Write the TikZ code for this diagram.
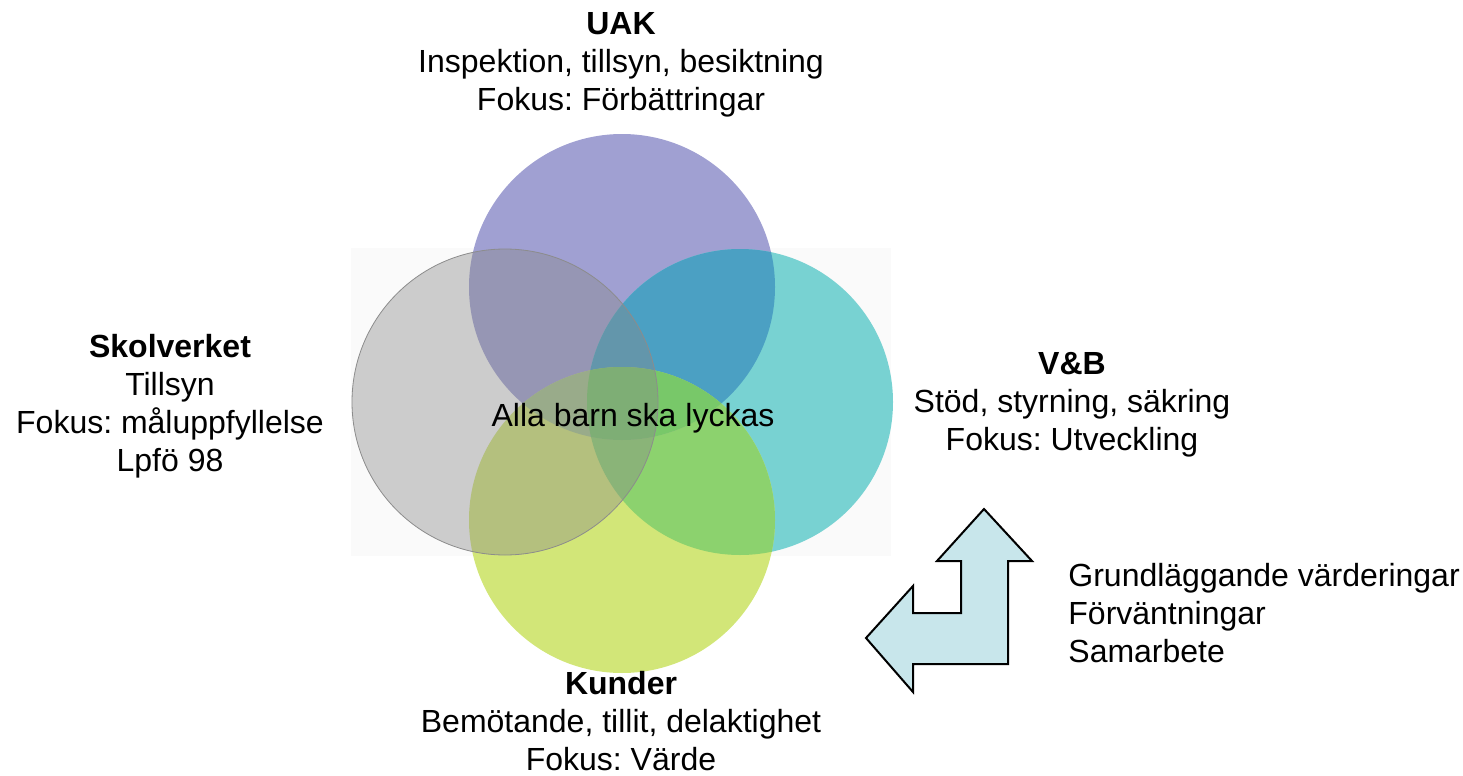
\documentclass[tikz,border=0pt]{standalone}
\usepackage{fontspec}
\setmainfont{Liberation Sans}
\frenchspacing
\definecolor{cP}{RGB}{160,160,210}
\definecolor{cT}{RGB}{120,210,210}
\definecolor{cG}{RGB}{210,230,120}
\definecolor{cPT}{RGB}{75,160,195}
\definecolor{cTG}{RGB}{140,210,110}
\definecolor{cPG}{RGB}{165,195,140}
\definecolor{cPTG}{RGB}{120,200,105}
\definecolor{cL}{RGB}{135,135,135}
\definecolor{cArrow}{RGB}{200,230,235}
\definecolor{cBg}{RGB}{250,250,250}
\begin{document}
\begin{tikzpicture}[x=0.5pt,y=-0.5pt,
  lbl/.style={align=center, font=\fontsize{16}{19}\selectfont, inner sep=0pt},
  lbll/.style={align=left, font=\fontsize{16}{19}\selectfont, inner sep=0pt}]
\useasboundingbox (0,0) rectangle (1463,776);
\fill[cBg] (351,248) rectangle (891,556);
% base circles
\fill[cP] (622,287) circle (153);
\fill[cT] (740,402) circle (153);
\fill[cG] (622,520) circle (153);
% overlaps
\begin{scope}\clip (622,287) circle (153); \fill[cPT] (740,402) circle (153);\end{scope}
\begin{scope}\clip (740,402) circle (153); \fill[cTG] (622,520) circle (153);\end{scope}
\begin{scope}\clip (622,287) circle (153); \fill[cPG] (622,520) circle (153);\end{scope}
\begin{scope}\clip (622,287) circle (153); \clip (740,402) circle (153); \fill[cPTG] (622,520) circle (153);\end{scope}
% gray circle on top
\path[fill=cL, fill opacity=0.4, draw=black!45, line width=0.4pt] (505,402) circle (153);
% arrow
\draw[fill=cArrow, line width=1pt, line join=miter]
  (984,509) -- (1032,561) -- (1008,561) -- (1008,664) -- (913,664) -- (913,692)
  -- (866,638) -- (913,586) -- (913,613) -- (961,613) -- (961,561) -- (937,561) -- cycle;
% labels
\node[lbl] (uak) at (621,65) {\textbf{UAK}\\Inspektion, tillsyn, besiktning\\Fokus: Förbättringar};
\node[lbl] (skol) at (170,406) {\textbf{Skolverket}\\Tillsyn\\Fokus: måluppfyllelse\\Lpfö 98};
\node[lbl] (vb) at (1072,405) {\textbf{V\&B}\\Stöd, styrning, säkring\\Fokus: Utveckling};
\node[lbl] (kund) at (621,721) {\textbf{Kunder}\\Bemötande, tillit, delaktighet\\Fokus: Värde};
\node[lbl] (alla) at (633,418) {Alla barn ska lyckas};
\node[lbll, anchor=west] (list) at (1068,613) {Grundläggande värderingar\\Förväntningar\\Samarbete};
\end{tikzpicture}
\end{document}
